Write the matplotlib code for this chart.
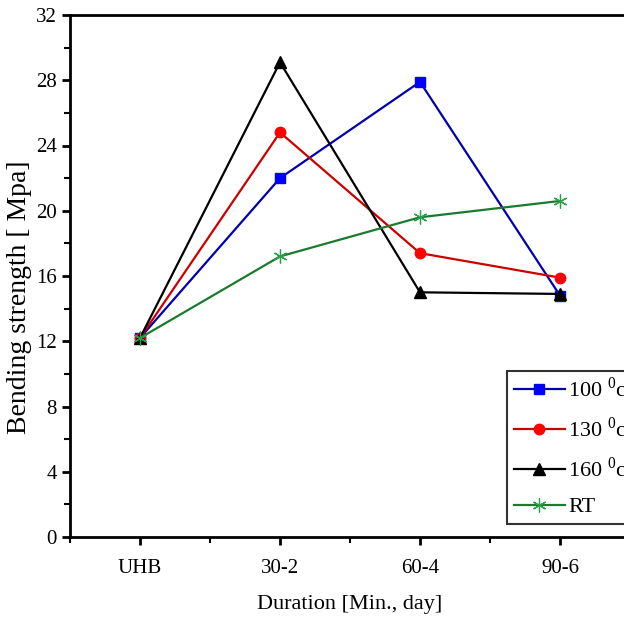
import numpy as np
import matplotlib
matplotlib.use("Agg")
import matplotlib.pyplot as plt
from matplotlib.ticker import MultipleLocator, AutoMinorLocator

# Data
durations = ["UHB", "30-2", "60-4", "90-6"]
s100 = [12.2, 22.0, 27.9, 14.8]
s130 = [12.2, 24.8, 17.4, 15.9]
s160 = [12.2, 29.1, 15.0, 14.9]
s_rt = [12.2, 17.2, 19.6, 20.6]

plt.rcParams['font.family'] = ['Liberation Serif', 'DejaVu Serif']
plt.rcParams['mathtext.fontset'] = 'custom'
plt.rcParams['mathtext.rm'] = 'Liberation Serif'

fig = plt.figure(figsize=(6.24, 6.25), dpi=100)
# axes runs past the right edge of the figure, like the cropped original
ax = fig.add_axes([70 / 624, 88 / 625, 560 / 624, 522 / 625])

x = np.arange(len(durations))
ax.plot(x, s100, color='#0000b0', marker='s', markersize=7.5, lw=1.6,
        markerfacecolor='#0000ff', markeredgecolor='#0000ff', label='100 $^{0}$c')
ax.plot(x, s130, color='#cc0000', marker='o', markersize=7.5, lw=1.6,
        markerfacecolor='#ff0000', markeredgecolor='#ff0000', label='130 $^{0}$c')
ax.plot(x, s160, color='black', marker='^', markersize=8.5, lw=1.6,
        label='160 $^{0}$c')
ax.plot(x, s_rt, color='#1a7a2e', marker=(6, 2, 0), markersize=10, lw=1.6,
        markeredgecolor='#2aa048', markeredgewidth=0.9, label='RT')

ax.set_xlim(-0.5, 3.5)
ax.set_ylim(0, 32)
ax.set_xticks(x)
ax.set_xticklabels(durations)
ax.yaxis.set_major_locator(MultipleLocator(4))
ax.yaxis.set_minor_locator(AutoMinorLocator(2))
ax.xaxis.set_minor_locator(MultipleLocator(0.5))
ax.tick_params(which='major', direction='out', length=6, width=2, labelsize=15)
ax.tick_params(which='minor', direction='out', length=4, width=1.5)
ax.tick_params(axis='x', pad=10)
for s in ax.spines.values():
    s.set_linewidth(2)

ax.set_xlabel('Duration [Min., day]', fontsize=16, labelpad=12)
ax.set_ylabel('Bending strength [ Mpa]', fontsize=20)
ax.yaxis.set_label_coords(-0.068, 0.46)

leg = ax.legend(loc='upper left', bbox_to_anchor=(507 / 624, 1 - 371 / 625),
                bbox_transform=fig.transFigure, fontsize=16, frameon=True,
                fancybox=False, edgecolor='black', handlelength=2.3,
                handletextpad=0.15, borderpad=0.3, labelspacing=0.68,
                borderaxespad=0)
leg.get_frame().set_linewidth(1.5)

fig.savefig('out.png', dpi=100)
